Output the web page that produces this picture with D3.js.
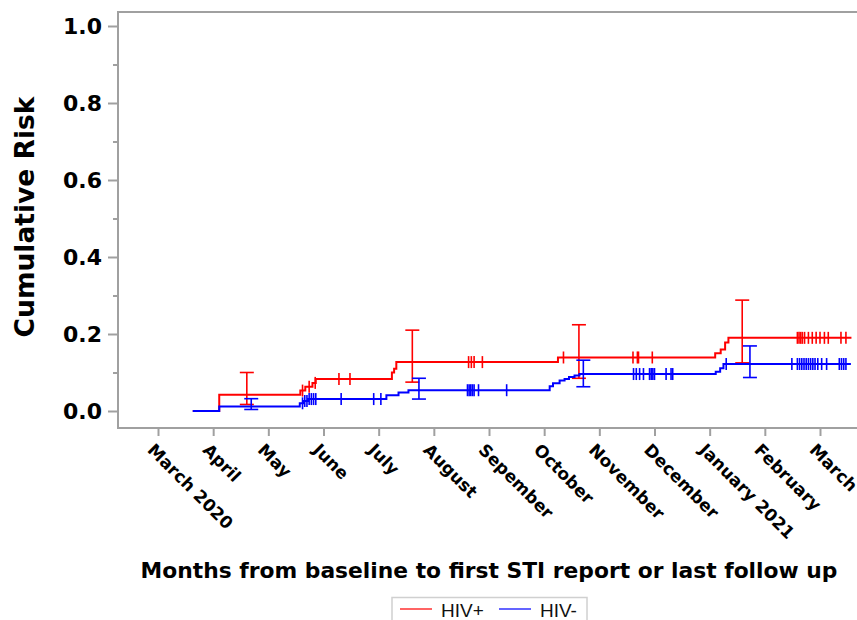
<!DOCTYPE html>
<html>
<head>
<meta charset="utf-8">
<script src="https://cdn.jsdelivr.net/npm/d3@7"></script>
<style>
  body { margin: 0; background: #fff; }
  svg { display: block; }
</style>
</head>
<body>
<div id="chart"></div>
<script>
// month labels along the x axis (one tick per month from baseline)
const monthLabels = ["March 2020", "April", "May", "June", "July", "August", "Sepember",
  "October", "November", "December", "January 2021", "February", "March"];
const yTicks = [0, 0.2, 0.4, 0.6, 0.8, 1.0];
const yMinorTicks = [0.1, 0.3, 0.5, 0.7, 0.9];

// HIV+ : step times (months) and cumulative risk after each step
const posTimes = [0.63, 1.11, 2.58, 2.67, 2.80, 2.86, 4.24, 4.28, 4.32, 7.25, 10.10, 10.20, 10.28, 10.34, 12.57];
const posRisk  = [0, 0.042, 0.053, 0.063, 0.073, 0.083, 0.10, 0.11, 0.127, 0.139, 0.150, 0.160, 0.178, 0.190, 0.190];
const posCensor = [2.62, 2.74, 2.85, 3.28, 3.48, 5.63, 5.68, 5.73, 5.88, 7.35, 8.61, 8.69, 8.71, 8.96,
  11.59, 11.62, 11.65, 11.68, 11.72, 11.79, 11.86, 11.93, 12.00, 12.08, 12.15, 12.38, 12.47];
const posCiTimes = [1.61, 4.61, 7.63, 10.59];
const posCiLow   = [0.017, 0.075, 0.085, 0.125];
const posCiHigh  = [0.100, 0.210, 0.224, 0.288];

// HIV- : step times (months) and cumulative risk after each step
const negTimes = [0.63, 1.11, 2.57, 2.64, 2.72, 4.14, 4.36, 4.54, 7.10, 7.16, 7.28, 7.37, 7.45, 7.55, 7.64, 10.11, 10.19, 10.25, 12.56];
const negRisk  = [0, 0.012, 0.020, 0.026, 0.031, 0.041, 0.048, 0.054, 0.064, 0.072, 0.079, 0.083, 0.088, 0.092, 0.096, 0.102, 0.111, 0.122, 0.122];
const negCensor = [2.62, 2.66, 2.70, 2.74, 2.78, 2.82, 2.86, 3.32, 3.91, 4.04, 5.61, 5.64, 5.67, 5.70, 5.73, 5.81, 6.32,
  8.62, 8.67, 8.73, 8.80, 8.91, 8.94, 8.97, 9.00, 9.21, 9.30, 9.33, 10.30, 11.49,
  11.59, 11.63, 11.67, 11.71, 11.75, 11.79, 11.83, 11.87, 11.91, 11.96, 12.03, 12.12, 12.35, 12.39, 12.43, 12.47];
const negCiTimes = [1.69, 4.73, 7.71, 10.73];
const negCiLow   = [0.004, 0.031, 0.063, 0.087];
const negCiHigh  = [0.032, 0.085, 0.132, 0.169];

const width = 857, height = 620;
const frame = { left: 118, right: 860, top: 12, bottom: 428 };
const axisColor = "#a0a0a0";
const bold = "'DejaVu Sans', Verdana, sans-serif";

const svg = d3.select("#chart").append("svg")
  .attr("width", width)
  .attr("height", height);

const x = d3.scaleLinear().domain([0, 12]).range([158, 820]);
const y = d3.scaleLinear().domain([0, 1]).range([411, 26]);

// plot frame
svg.append("rect")
  .attr("x", frame.left).attr("y", frame.top)
  .attr("width", frame.right - frame.left)
  .attr("height", frame.bottom - frame.top)
  .attr("fill", "none")
  .attr("stroke", axisColor)
  .attr("stroke-width", 2);

// y axis, major and minor ticks
const yAxis = svg.append("g")
  .attr("transform", `translate(${frame.left},0)`)
  .call(d3.axisLeft(y).tickValues(yTicks).tickSize(10).tickPadding(6).tickFormat(d3.format(".1f")));
yAxis.select(".domain").remove();
yAxis.selectAll("line").attr("stroke", axisColor).attr("stroke-width", 2);
yAxis.selectAll("text")
  .attr("fill", "#000")
  .style("font-family", bold)
  .style("font-weight", "bold")
  .style("font-size", "22px");

const yMinor = svg.append("g")
  .attr("transform", `translate(${frame.left},0)`)
  .call(d3.axisLeft(y).tickValues(yMinorTicks).tickSize(5).tickFormat(""));
yMinor.select(".domain").remove();
yMinor.selectAll("line").attr("stroke", axisColor).attr("stroke-width", 2);

// x axis with rotated month labels
const xAxis = svg.append("g")
  .attr("transform", `translate(0,${frame.bottom})`)
  .call(d3.axisBottom(x).tickValues(d3.range(monthLabels.length)).tickSize(8).tickFormat(i => monthLabels[i]));
xAxis.select(".domain").remove();
xAxis.selectAll("line").attr("stroke", axisColor).attr("stroke-width", 2);
xAxis.selectAll("text")
  .attr("fill", "#000")
  .attr("text-anchor", "start")
  .attr("x", -12)
  .attr("y", 23)
  .attr("dy", 0)
  .attr("transform", "rotate(45, -12, 23)")
  .style("font-family", bold)
  .style("font-weight", "bold")
  .style("font-size", "17px");

// axis titles
svg.append("text")
  .attr("transform", `translate(34,${(frame.top + frame.bottom) / 2 - 3}) rotate(-90)`)
  .attr("text-anchor", "middle")
  .style("font-family", bold)
  .style("font-weight", "bold")
  .style("font-size", "26.5px")
  .text("Cumulative Risk");

svg.append("text")
  .attr("x", (frame.left + frame.right) / 2)
  .attr("y", 578)
  .attr("text-anchor", "middle")
  .style("font-family", bold)
  .style("font-weight", "bold")
  .style("font-size", "21.8px")
  .text("Months from baseline to first STI report or last follow up");

// curves
const groups = [
  { color: "#ff0000", times: posTimes, risk: posRisk, censor: posCensor, ciT: posCiTimes, ciLo: posCiLow, ciHi: posCiHigh },
  { color: "#0000ff", times: negTimes, risk: negRisk, censor: negCensor, ciT: negCiTimes, ciLo: negCiLow, ciHi: negCiHigh }
];

const stepLine = d3.line()
  .x(d => x(d[0]))
  .y(d => y(d[1]))
  .curve(d3.curveStepAfter);

function riskAt(g, t) {
  const i = d3.bisectRight(g.times, t) - 1;
  return g.risk[Math.max(0, i)];
}

groups.forEach(g => {
  const layer = svg.append("g");
  layer.append("path")
    .datum(g.times.map((t, i) => [t, g.risk[i]]))
    .attr("d", stepLine)
    .attr("fill", "none")
    .attr("stroke", g.color)
    .attr("stroke-width", 2);

  layer.selectAll(".censor")
    .data(g.censor)
    .enter().append("line")
    .attr("x1", t => x(t)).attr("x2", t => x(t))
    .attr("y1", t => y(riskAt(g, t)) - 6)
    .attr("y2", t => y(riskAt(g, t)) + 6)
    .attr("stroke", g.color)
    .attr("stroke-width", 1.6);

  const ci = layer.selectAll(".ci")
    .data(g.ciT.map((t, i) => ({ t, lo: g.ciLo[i], hi: g.ciHi[i] })))
    .enter().append("g");
  ci.append("line")
    .attr("x1", d => x(d.t)).attr("x2", d => x(d.t))
    .attr("y1", d => y(d.lo)).attr("y2", d => y(d.hi))
    .attr("stroke", g.color).attr("stroke-width", 1.6);
  ["lo", "hi"].forEach(k => {
    ci.append("line")
      .attr("x1", d => x(d.t) - 7).attr("x2", d => x(d.t) + 7)
      .attr("y1", d => y(d[k])).attr("y2", d => y(d[k]))
      .attr("stroke", g.color).attr("stroke-width", 1.6);
  });
});

// legend
const legend = svg.append("g");
legend.append("rect")
  .attr("x", 392).attr("y", 597.5)
  .attr("width", 195).attr("height", 30)
  .attr("fill", "#fff")
  .attr("stroke", "#d0d0d0")
  .attr("stroke-width", 1.5);
[{ label: "HIV+", color: "#ff3030", x0: 400 }, { label: "HIV-", color: "#3030ff", x0: 499 }].forEach(item => {
  legend.append("line")
    .attr("x1", item.x0).attr("x2", item.x0 + 32)
    .attr("y1", 609).attr("y2", 609)
    .attr("stroke", item.color).attr("stroke-width", 1.5);
  legend.append("text")
    .attr("x", item.x0 + 41).attr("y", 616.5)
    .style("font-family", "'Liberation Sans', Arial, sans-serif")
    .style("font-size", "19px")
    .attr("fill", "#111")
    .text(item.label);
});
</script>
</body>
</html>
